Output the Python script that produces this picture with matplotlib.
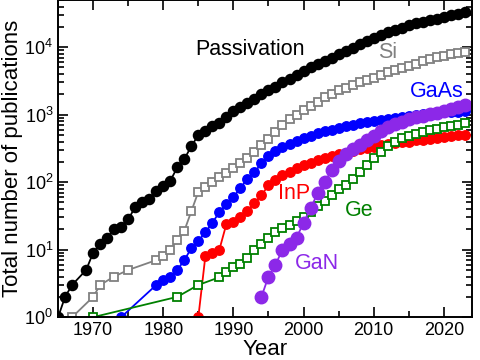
import numpy as np
import matplotlib
matplotlib.use("Agg")
import matplotlib.pyplot as plt
from matplotlib.ticker import MultipleLocator, LogLocator, NullFormatter

plt.rcParams['font.family'] = ['Liberation Sans', 'DejaVu Sans']
plt.rcParams['mathtext.fontset'] = 'custom'
plt.rcParams['mathtext.rm'] = 'Liberation Sans'

# Passivation (black)
pas_years = [1965, 1966, 1967, 1969] + list(range(1970, 2024))
pas_vals = [1, 2, 3, 5,
            9, 12, 15, 20, 22, 28, 43, 50, 57, 73,
            87, 105, 165, 220, 340, 500, 580, 680, 760, 920,
            1150, 1300, 1500, 1700, 2000, 2300, 2600, 3000, 3400, 3900,
            4500, 5000, 5600, 6300, 7000, 7800, 8700, 9800, 11000, 12300,
            13600, 15000, 16500, 18000, 19500, 21000, 22500, 23800, 25000, 26500,
            28000, 29500, 31000, 33000]

# Si (gray open squares)
si_years = [1967, 1970, 1971, 1973, 1975, 1979] + list(range(1980, 2024))
si_vals = [1, 2, 3, 4, 5, 7,
           8, 10, 14, 19, 37, 72, 85, 100, 118, 135,
           160, 190, 225, 280, 350, 440, 560, 700, 850, 1000,
           1180, 1350, 1550, 1800, 2050, 2300, 2500, 2750, 3000, 3250,
           3550, 3900, 4250, 4600, 4950, 5250, 5700, 6200, 6700, 7100,
           7500, 7850, 8150, 8450]

# GaAs (blue)
gaas_years = [1974, 1979] + list(range(1980, 2024))
gaas_vals = [1, 3,
             3.5, 4, 5, 7, 10.5, 13.5, 18, 25, 36, 48,
             60, 82, 112, 140, 190, 245, 290, 330, 370, 410,
             450, 490, 530, 565, 600, 640, 675, 710, 745, 780,
             810, 840, 870, 900, 930, 960, 990, 1010, 1040, 1060,
             1080, 1100, 1110, 1120]

# InP (red)
inp_years = list(range(1985, 2024))
inp_vals = [1, 8, 9, 10, 24,
            26, 30, 38, 49, 64, 90, 107, 127, 140, 160,
            180, 195, 210, 230, 245, 260, 275, 290, 305, 320,
            335, 350, 362, 375, 388, 400, 415, 428, 442, 455,
            468, 480, 492, 505]

# Ge (green open squares)
ge_years = [1970, 1982, 1985, 1988, 1989] + list(range(1990, 2024))
ge_vals = [1, 2, 3, 3.9, 4.6,
           5.5, 6.1, 7.5, 10, 12, 15, 18, 21, 23, 27,
           30, 36, 44, 53, 64, 78, 92, 110, 140, 180,
           230, 280, 340, 400, 450, 490, 525, 560, 590, 620,
           650, 680, 710, 740]

# GaN (purple)
gan_years = list(range(1994, 2024))
gan_vals = [2, 4, 6, 10, 12, 15,
            25, 41, 68, 100, 150, 205, 260, 305, 350, 420,
            490, 570, 650, 720, 790, 850, 910, 960, 1010, 1060,
            1130, 1210, 1290, 1370]

purple = '#8c28e8'

fig = plt.figure(figsize=(4.8, 3.6), dpi=100)
ax = fig.add_axes([0.121, 0.119, 0.862, 0.881])

ax.plot(pas_years, pas_vals, '-o', color='black', ms=7.3, lw=1.3)
ax.plot(si_years, si_vals, '-s', color='#808080', mfc='white', ms=5.8, mew=1.3, lw=1.3)
ax.plot(gaas_years, gaas_vals, '-o', color='#0000ff', ms=6.8, lw=1.3)
ax.plot(inp_years, inp_vals, '-o', color='#ff0000', ms=6.8, lw=1.3)
ax.plot(ge_years, ge_vals, '-s', color='#008000', mfc='white', ms=5.8, mew=1.3, lw=1.3)
ax.plot(gan_years, gan_vals, '-o', color=purple, ms=9, lw=1.3)

ax.set_yscale('log')
ax.set_xlim(1965, 2024)
ax.set_ylim(1, 5e4)

ax.xaxis.set_major_locator(MultipleLocator(10))
ax.xaxis.set_minor_locator(MultipleLocator(5))
ax.yaxis.set_major_locator(LogLocator(base=10))
ax.yaxis.set_minor_locator(LogLocator(base=10, subs=np.arange(2, 10)))
ax.yaxis.set_minor_formatter(NullFormatter())

ax.tick_params(which='both', direction='in', top=True, right=True, labelsize=13, width=1.2)
ax.tick_params(which='major', length=7)
ax.tick_params(which='minor', length=4)
for s in ax.spines.values():
    s.set_linewidth(1.4)

ax.set_xlabel('Year', fontsize=16, labelpad=0)
ax.set_ylabel('Total number of publications', fontsize=16, labelpad=1)

lab = 15.5
ax.text(1984.5, 9100, 'Passivation', color='black', fontsize=lab, va='center')
ax.text(2010.6, 8300, 'Si', color='#808080', fontsize=lab, va='center')
ax.text(2015.1, 2170, 'GaAs', color='#0000ff', fontsize=lab, va='center')
ax.text(1996.3, 69, 'InP', color='#ff0000', fontsize=lab, va='center')
ax.text(2005.9, 38.5, 'Ge', color='#008000', fontsize=lab, va='center')
ax.text(1998.8, 6.3, 'GaN', color=purple, fontsize=lab, va='center')

fig.savefig('out.png', dpi=100)
